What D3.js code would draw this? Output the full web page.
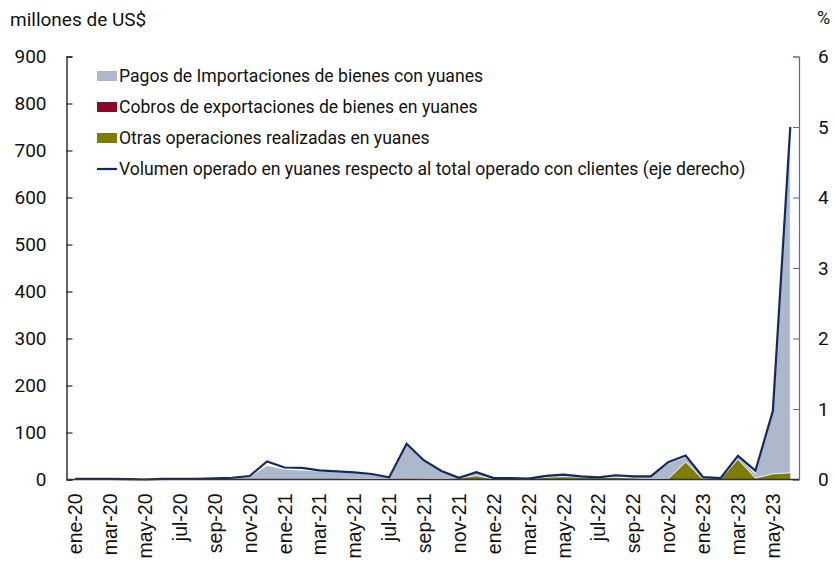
<!DOCTYPE html>
<html>
<head>
<meta charset="utf-8">
<script src="https://cdn.jsdelivr.net/npm/d3@7"></script>
<style>
  html, body { margin: 0; padding: 0; background: #fff; }
  svg { display: block; }
</style>
</head>
<body>
<svg id="chart" width="835" height="565"></svg>
<script>
const months = ["ene-20","feb-20","mar-20","abr-20","may-20","jun-20","jul-20","ago-20","sep-20","oct-20","nov-20","dic-20",
  "ene-21","feb-21","mar-21","abr-21","may-21","jun-21","jul-21","ago-21","sep-21","oct-21","nov-21","dic-21",
  "ene-22","feb-22","mar-22","abr-22","may-22","jun-22","jul-22","ago-22","sep-22","oct-22","nov-22","dic-22",
  "ene-23","feb-23","mar-23","abr-23","may-23","jun-23"];

// millones de US$
const pagos  = [1,1,1,0,1,1,1,1,2,3, 6,30,22,20,18,16,12,9,3,76, 39,16,1,7,2,2,1,3,4,2, 1,4,4,5,33,11,5,2,6,9, 144,759];
const cobros = [0,0,0,0,0,0,0,0,0,0, 0,0,0,0,0,0,0,0,0,0, 1,2,2,1,0,0,0,0,0,0, 0,0,0,0,0,0,0,0,0,1, 1,1];
const otras  = [0,0,0,0,0,0,0,0,0,0, 0,0,0,0,0,0,2,2,1,0, 0,0,1,7,1,1,1,5,6,5, 4,5,3,2,1,37,0,1,43,2, 11,13];
// % (eje derecho)
const volumen = [0.01,0.01,0.01,0.005,0.0,0.01,0.01,0.01,0.015,0.025, 0.05,0.255,0.17,0.165,0.13,0.115,0.1,0.078,0.03,0.506,
  0.27,0.12,0.025,0.104,0.02,0.02,0.012,0.052,0.07,0.045, 0.03,0.06,0.045,0.045,0.246,0.34,0.033,0.02,0.336,0.125, 0.97,5.0];

const leftTicks = [0,100,200,300,400,500,600,700,800,900];
const rightTicks = [0,1,2,3,4,5,6];

const seriesNames = ["Pagos de Importaciones de bienes con yuanes","Cobros de exportaciones de bienes en yuanes","Otras operaciones realizadas en yuanes","Volumen operado en yuanes respecto al total operado con clientes (eje derecho)"];
const colors = { pagos: "#adb8cb", cobros: "#8a0a25", otras: "#7d7d00", linea: "#102a63", rAxis: "#5b6b93" };

const svg = d3.select("#chart");
const L = 66.5, R = 799, T = 56.5, B = 479.5;

const x = d3.scalePoint().domain(d3.range(months.length)).range([L, R]).padding(0.5);
const yL = d3.scaleLinear().domain([0, 900]).range([B, T]);
const yR = d3.scaleLinear().domain([0, 6]).range([B, T]);

const rows = months.map((m, i) => ({ i, otras: otras[i], cobros: cobros[i], pagos: pagos[i] }));
const stack = d3.stack().keys(["otras", "cobros", "pagos"]);
const stacked = stack(rows);

const area = d3.area()
  .x(d => x(d.data.i))
  .y0(d => yL(d[0]))
  .y1(d => yL(d[1]));

svg.append("g").selectAll("path").data(stacked).join("path")
  .attr("d", area)
  .attr("fill", d => colors[d.key])
  .attr("stroke", d => d.key === "pagos" ? "#ffffff" : "none")
  .attr("stroke-width", 0.8);

const line = d3.line().x((d, i) => x(i)).y(d => yR(d));
svg.append("path").datum(volumen)
  .attr("d", line)
  .attr("fill", "none")
  .attr("stroke", colors.linea)
  .attr("stroke-width", 2.2)
  .attr("stroke-linejoin", "miter");

// Left axis
const gL = svg.append("g").attr("transform", `translate(${L},0)`)
  .call(d3.axisLeft(yL).tickValues(leftTicks).tickSize(-6).tickPadding(20).tickFormat(d3.format("d")));
gL.select(".domain").attr("stroke", "#000").attr("stroke-width", 1.2);
gL.selectAll(".tick line").attr("stroke", "#000");
gL.selectAll(".tick text").attr("font-family", "Roboto, sans-serif").attr("font-size", 19).attr("fill", "#111");

// Right axis
const gR = svg.append("g").attr("transform", `translate(${R},0)`)
  .call(d3.axisRight(yR).tickValues(rightTicks).tickSize(-6).tickPadding(19).tickFormat(d3.format("d")));
gR.select(".domain").attr("stroke", colors.rAxis).attr("stroke-width", 1.2);
gR.selectAll(".tick line").attr("stroke", colors.rAxis);
gR.selectAll(".tick text").attr("font-family", "Roboto, sans-serif").attr("font-size", 19).attr("fill", "#111");

// X axis
svg.append("line").attr("x1", L).attr("x2", R).attr("y1", B).attr("y2", B)
  .attr("stroke", "#333").attr("stroke-width", 1.3);
const gX = svg.append("g");
months.forEach((m, i) => {
  if (i % 2 !== 0) return;
  gX.append("text")
    .attr("transform", `translate(${x(i)},${B + 14}) rotate(-90)`)
    .attr("text-anchor", "end")
    .attr("dy", "0.36em")
    .attr("font-family", "'Liberation Sans', Arial, sans-serif")
    .attr("font-size", 19.5)
    .attr("fill", "#111")
    .text(m);
});

// Axis titles
svg.append("text").attr("x", 10).attr("y", 26).attr("font-family", "Roboto, sans-serif")
  .attr("font-size", 19).attr("fill", "#111").text("millones de US$");
svg.append("text").attr("x", 817).attr("y", 24).attr("font-family", "Roboto, sans-serif")
  .attr("font-size", 18).attr("fill", "#111").text("%");

// Legend
const legY = [76, 107, 138, 169];
const legColors = [colors.pagos, colors.cobros, colors.otras, colors.linea];
const leg = svg.append("g");
seriesNames.forEach((name, k) => {
  if (k < 3) {
    leg.append("rect").attr("x", 97).attr("y", legY[k] - 5).attr("width", 20).attr("height", 10).attr("fill", legColors[k]);
  } else {
    leg.append("line").attr("x1", 97).attr("x2", 117).attr("y1", legY[k]).attr("y2", legY[k])
      .attr("stroke", legColors[k]).attr("stroke-width", 2.2);
  }
  leg.append("text").attr("x", 119).attr("y", legY[k]).attr("dy", "0.35em")
    .attr("font-family", "Roboto, sans-serif").attr("font-size", 17.6).attr("fill", "#111").text(name);
});
</script>
</body>
</html>
